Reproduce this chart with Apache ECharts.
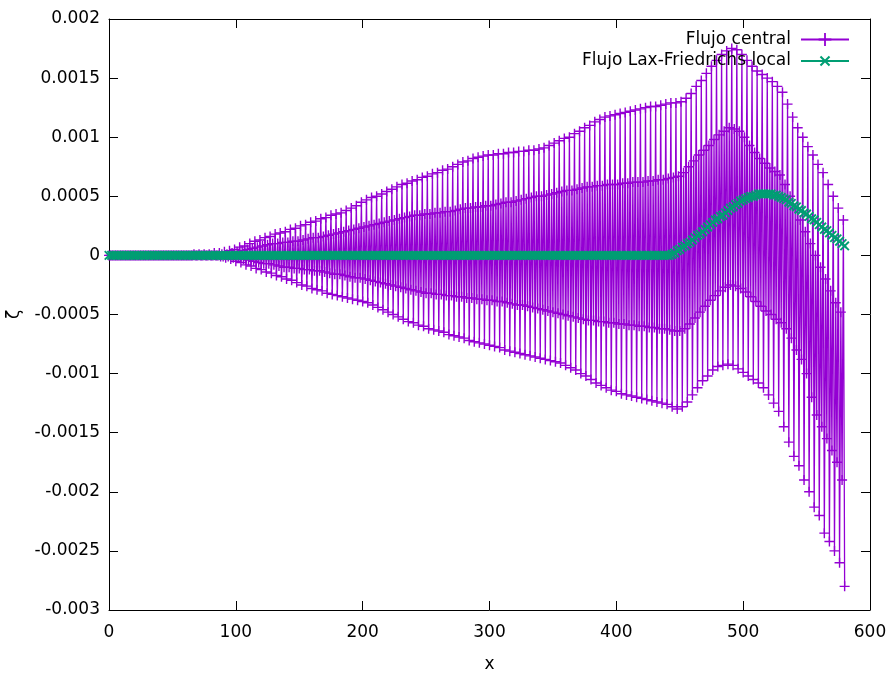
<!DOCTYPE html>
<html>
<head>
<meta charset="utf-8">
<script src="https://cdn.jsdelivr.net/npm/echarts@6/dist/echarts.min.js"></script>
<style>html,body{margin:0;padding:0;background:#fff}#c{width:894px;height:675px}</style>
</head>
<body>
<div id="c"></div>
<script>
// Flujo central: the oscillating solution runs through four envelopes.
// Each envelope is read every 4 units of x; sample i sits at x = 4*i + offset.
const centralOuterLower = [0,0,0,0,0,0,0,0,0,0,0,0,0,0,0,0,0,0,0,0,0,0,
-0.00001,-0.00002,-0.00003,-0.00005,-0.00006,-0.00008,-0.00009,-0.00011,-0.00012,-0.00014,-0.00015,-0.00017,-0.00018,-0.0002,-0.00021,-0.00023,-0.00025,-0.00026,-0.00028,-0.00029,-0.0003,-0.00032,-0.00033,-0.00034,-0.00035,-0.00036,-0.00037,-0.00038,-0.00039,-0.0004,-0.00042,-0.00044,-0.00046,-0.00048,-0.0005,-0.00052,-0.00054,-0.00056,-0.00057,-0.00059,-0.0006,-0.00062,-0.00063,-0.00064,-0.00065,-0.00067,-0.00068,-0.00069,-0.0007,-0.00072,-0.00073,-0.00074,-0.00075,-0.00076,-0.00077,-0.00078,-0.0008,-0.00081,-0.00082,-0.00083,-0.00084,-0.00085,-0.00086,-0.00087,-0.00088,-0.00089,-0.0009,-0.00091,-0.00093,-0.00095,-0.00097,-0.001,-0.00102,-0.00105,-0.00108,-0.0011,-0.00112,-0.00114,-0.00115,-0.00117,-0.00118,-0.00119,-0.0012,-0.00121,-0.00122,-0.00123,-0.00124,-0.00125,-0.00126,-0.00128,-0.0013,-0.00128,-0.00124,-0.00118,-0.00112,-0.00106,-0.00102,-0.00097,-0.00094,-0.00093,-0.00092,-0.00093,-0.00096,-0.00099,-0.00102,-0.00105,-0.00108,-0.00112,-0.00118,-0.00125,-0.00132,-0.00145,-0.00158,-0.0017,-0.00178,-0.0019,-0.002,-0.00213,-0.0022,-0.00235,-0.00242,-0.0025,-0.0026,-0.0028];
const centralInnerUpper = [0,0,0,0,0,0,0,0,0,0,0,0,0,0,0,0,0,0,0,0,0,0,
0.00001,0.00001,0.00002,0.00003,0.00004,0.00005,0.00006,0.00007,0.00008,0.00009,0.0001,0.0001,0.00011,0.00011,0.00012,0.00012,0.00013,0.00014,0.00015,0.00015,0.00016,0.00017,0.00018,0.00019,0.0002,0.00021,0.00022,0.00023,0.00024,0.00025,0.00026,0.00027,0.00028,0.00029,0.0003,0.00031,0.00032,0.00033,0.00034,0.00034,0.00035,0.00035,0.00036,0.00036,0.00037,0.00037,0.00038,0.00039,0.0004,0.0004,0.00041,0.00041,0.00042,0.00042,0.00043,0.00044,0.00045,0.00045,0.00046,0.00047,0.00048,0.00049,0.0005,0.0005,0.00051,0.00052,0.00053,0.00054,0.00055,0.00055,0.00056,0.00057,0.00058,0.00058,0.00059,0.00059,0.0006,0.0006,0.0006,0.00061,0.00061,0.00062,0.00062,0.00062,0.00063,0.00063,0.00064,0.00064,0.00065,0.00066,0.00067,0.0007,0.00075,0.0008,0.00085,0.00089,0.00093,0.00098,0.00102,0.00105,0.00108,0.00107,0.00105,0.001,0.00093,0.00087,0.00082,0.00078,0.00074,0.00071,0.00068,0.0006,0.0005,0.0004,0.0003,0.0002,0.0001,0,-0.0001,-0.0002,-0.0003,-0.0004,-0.00048,-0.00053];
const centralInnerLower = [0,0,0,0,0,0,0,0,0,0,0,0,0,0,0,0,0,0,0,0,0,0,
-0.00001,-0.00001,-0.00002,-0.00002,-0.00003,-0.00004,-0.00005,-0.00006,-0.00007,-0.00007,-0.00008,-0.00009,-0.0001,-0.0001,-0.00011,-0.00011,-0.00012,-0.00012,-0.00013,-0.00013,-0.00014,-0.00015,-0.00016,-0.00016,-0.00017,-0.00018,-0.00019,-0.00019,-0.0002,-0.00021,-0.00022,-0.00023,-0.00024,-0.00025,-0.00026,-0.00027,-0.00028,-0.00029,-0.0003,-0.00031,-0.00032,-0.00032,-0.00033,-0.00033,-0.00034,-0.00034,-0.00035,-0.00035,-0.00036,-0.00036,-0.00037,-0.00037,-0.00038,-0.00038,-0.00039,-0.00039,-0.0004,-0.00041,-0.00042,-0.00042,-0.00043,-0.00044,-0.00045,-0.00046,-0.00047,-0.00048,-0.00049,-0.0005,-0.00051,-0.00052,-0.00053,-0.00054,-0.00055,-0.00055,-0.00056,-0.00056,-0.00057,-0.00057,-0.00058,-0.00058,-0.00059,-0.00059,-0.0006,-0.0006,-0.00061,-0.00061,-0.00062,-0.00062,-0.00063,-0.00064,-0.00064,-0.00062,-0.00058,-0.00053,-0.00048,-0.00043,-0.00038,-0.00034,-0.0003,-0.00027,-0.00025,-0.00026,-0.00028,-0.00031,-0.00035,-0.00039,-0.00043,-0.00047,-0.0005,-0.00054,-0.00057,-0.00062,-0.0007,-0.0008,-0.00088,-0.001,-0.0012,-0.00135,-0.00145,-0.00155,-0.00165,-0.00175,-0.0019,-0.0019];
const centralOuterUpper = [0,0,0,0,0,0,0,0,0,0,0,0,0,0,0,0,
0.00001,0.00001,0.00001,0.00001,0.00002,0.00002,0.00003,0.00004,0.00005,0.00007,0.00008,0.0001,0.00012,0.00013,0.00015,0.00016,0.00018,0.00019,0.0002,0.00022,0.00023,0.00025,0.00026,0.00028,0.00029,0.00031,0.00032,0.00034,0.00035,0.00036,0.00038,0.0004,0.00042,0.00045,0.00047,0.00049,0.0005,0.00052,0.00054,0.00056,0.00058,0.0006,0.00061,0.00063,0.00064,0.00066,0.00067,0.00069,0.0007,0.00072,0.00073,0.00075,0.00077,0.00079,0.0008,0.00082,0.00083,0.00084,0.00085,0.00085,0.00086,0.00086,0.00087,0.00087,0.00088,0.00088,0.00089,0.00089,0.0009,0.00091,0.00093,0.00095,0.00097,0.00099,0.001,0.00103,0.00105,0.00108,0.0011,0.00113,0.00115,0.00117,0.00118,0.00119,0.0012,0.00121,0.00122,0.00123,0.00124,0.00125,0.00126,0.00126,0.00127,0.00128,0.00129,0.00129,0.0013,0.00133,0.00137,0.00143,0.00148,0.00154,0.0016,0.00165,0.0017,0.00173,0.00175,0.00174,0.0017,0.00165,0.0016,0.00156,0.00153,0.0015,0.00147,0.00143,0.00138,0.00128,0.00117,0.00108,0.001,0.00092,0.00085,0.00077,0.0007,0.0006,0.0005,0.0004,0.0003,0.0002];
const centralStep = 4;
const centralLastX = 580;

// Flujo Lax-Friedrichs local: one value every 2 units of x, from x = 0 to 580
const laxStep = 2;
const laxValues = [
0,0,0,0,0,0,0,0,0,0,0,0,0,0,0,0,0,0,0,0,0,0,
0,0,0,0,0,0,0,0,0,0,0,0,0,0,0,0,0,0,0,0,0,0,
0,0,0,0,0,0,0,0,0,0,0,0,0,0,0,0,0,0,0,0,0,0,
0,0,0,0,0,0,0,0,0,0,0,0,0,0,0,0,0,0,0,0,0,0,
0,0,0,0,0,0,0,0,0,0,0,0,0,0,0,0,0,0,0,0,0,0,
0,0,0,0,0,0,0,0,0,0,0,0,0,0,0,0,0,0,0,0,0,0,
0,0,0,0,0,0,0,0,0,0,0,0,0,0,0,0,0,0,0,0,0,0,
0,0,0,0,0,0,0,0,0,0,0,0,0,0,0,0,0,0,0,0,0,0,
0,0,0,0,0,0,0,0,0,0,0,0,0,0,0,0,0,0,0,0,0,0,
0,0,0,0,0,0,0,0,0,0,0,0,0,0,0,0,0,0,0,0,0,0,
0,
0,0.00001,0.00002,0.00004,0.00005,0.00007,0.00008,0.0001,0.00011,0.00013,
0.00015,0.00017,0.00018,0.0002,0.00022,0.00024,0.00026,0.00028,0.0003,0.00031,
0.00033,0.00034,0.00036,0.00038,0.0004,0.00041,0.00043,0.00044,0.00046,0.00047,
0.00048,0.00049,0.0005,0.0005,0.00051,0.00052,0.00052,0.00052,0.00052,0.00052,
0.00052,0.00051,0.00051,0.0005,0.00049,0.00048,0.00047,0.00045,0.00044,0.00042,
0.00041,0.00039,0.00038,0.00036,0.00035,0.00033,0.00031,0.0003,0.00028,0.00026,
0.00024,0.00022,0.00021,0.00019,0.00017,0.00015,0.00014,0.00012,0.0001,0.00008
];

const xTicks = [0, 100, 200, 300, 400, 500, 600];
const yTicks = [-0.003, -0.0025, -0.002, -0.0015, -0.001, -0.0005, 0, 0.0005, 0.001, 0.0015, 0.002];
const seriesNames = ['Flujo central', 'Flujo Lax-Friedrichs local'];
const colors = ['#9400d3', '#009e73'];

// interleave the envelopes in the order the solution visits them
const envelopes = [centralOuterLower, centralInnerUpper, centralInnerLower, centralOuterUpper];
const centralData = [];
for (let i = 0; i < centralOuterLower.length; i++) {
  for (let k = 0; k < envelopes.length; k++) {
    const x = centralStep * i + k;
    if (x <= centralLastX && envelopes[k][i] !== undefined) centralData.push([x, envelopes[k][i]]);
  }
}
const laxData = laxValues.map((v, i) => [i * laxStep, v]);

const FONT = 'DejaVu Sans';
const FS = 17;
const plusPath = 'path://M4.3,0H5.7V10H4.3ZM0,4.3H10V5.7H0Z';
const crossPath = 'path://M4.2,0H5.8V10H4.2ZM0,4.2H10V5.8H0Z';
const fmt = v => String(parseFloat(Number(v).toPrecision(6)));

const chart = echarts.init(document.getElementById('c'), null, {renderer: 'canvas'});
const axisCommon = {
  axisLine: {show: true, onZero: false, lineStyle: {color: '#000', width: 1}},
  axisTick: {show: true, inside: true, length: 9, lineStyle: {color: '#000', width: 1}},
  splitLine: {show: false}
};
chart.setOption({
  animation: false,
  backgroundColor: '#fff',
  textStyle: {fontFamily: FONT},
  grid: {left: 109, right: 24, top: 19, bottom: 65, containLabel: false, outerBoundsMode: 'none'},
  legend: {
    data: seriesNames,
    orient: 'vertical', right: 44, top: 31, align: 'right', padding: 0,
    itemWidth: 48, itemHeight: 16, itemGap: 4,
    textStyle: {fontFamily: FONT, fontSize: FS, color: '#000', padding: [0, 5, 0, 0]},
    backgroundColor: 'transparent'
  },
  xAxis: [
    Object.assign({
      type: 'value', min: xTicks[0], max: xTicks[xTicks.length - 1], interval: 100,
      name: 'x', nameLocation: 'middle', nameGap: 46,
      nameTextStyle: {fontFamily: FONT, fontSize: FS, color: '#000'},
      axisLabel: {fontFamily: FONT, fontSize: FS, color: '#000', margin: 14, formatter: fmt}
    }, axisCommon),
    Object.assign({
      type: 'value', position: 'top', min: xTicks[0], max: xTicks[xTicks.length - 1], interval: 100,
      axisLabel: {show: false}
    }, axisCommon)
  ],
  yAxis: [
    Object.assign({
      type: 'value', min: yTicks[0], max: yTicks[yTicks.length - 1], interval: 0.0005,
      name: 'ζ', nameLocation: 'middle', nameGap: 86, nameRotate: 90,
      nameTextStyle: {fontFamily: FONT, fontSize: FS, color: '#000'},
      axisLabel: {fontFamily: FONT, fontSize: FS, color: '#000', margin: 9, formatter: fmt}
    }, axisCommon),
    Object.assign({
      type: 'value', position: 'right', min: yTicks[0], max: yTicks[yTicks.length - 1], interval: 0.0005,
      axisLabel: {show: false}
    }, axisCommon)
  ],
  series: [
    {
      name: seriesNames[0], type: 'line', data: centralData,
      xAxisIndex: 0, yAxisIndex: 0,
      lineStyle: {color: colors[0], width: 1.3},
      itemStyle: {color: colors[0]},
      symbol: plusPath, symbolSize: 10, showSymbol: true, showAllSymbol: true,
      emphasis: {disabled: true}, z: 2
    },
    {
      name: seriesNames[1], type: 'line', data: laxData,
      xAxisIndex: 0, yAxisIndex: 0,
      lineStyle: {color: colors[1], width: 1.3},
      itemStyle: {color: colors[1]},
      symbol: crossPath, symbolRotate: 45, symbolSize: 12, showSymbol: true, showAllSymbol: true,
      emphasis: {disabled: true}, z: 3
    }
  ]
});
</script>
</body>
</html>
